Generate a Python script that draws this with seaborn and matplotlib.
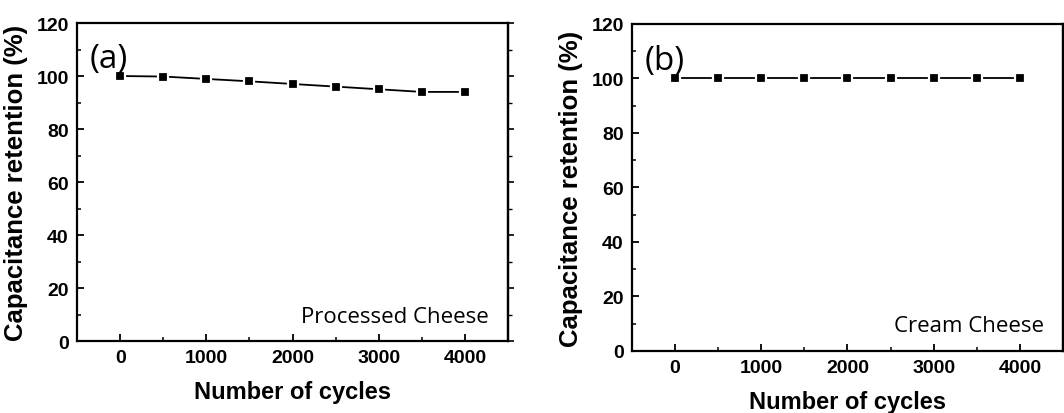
import matplotlib
matplotlib.use('Agg')
import matplotlib.pyplot as plt
from matplotlib.ticker import MultipleLocator
import seaborn as sns
import pandas as pd

# data
cycles = [0, 500, 1000, 1500, 2000, 2500, 3000, 3500, 4000]
processed = [100, 99.8, 98.9, 98.0, 97.0, 96.0, 95.0, 94.0, 94.0]
cream = [100, 100, 100, 100, 100, 100, 100, 100, 100]
panel_tags = ['(a)', '(b)']
panel_names = ['Processed Cheese', 'Cream Cheese']

sns.set_style('ticks')
plt.rcParams['font.family'] = ['Liberation Sans', 'DejaVu Sans']
plt.rcParams['font.weight'] = 'bold'
plt.rcParams['text.color'] = 'black'
plt.rcParams['axes.labelcolor'] = 'black'
plt.rcParams['xtick.color'] = 'black'
plt.rcParams['ytick.color'] = 'black'
plt.rcParams['axes.edgecolor'] = 'black'

fig = plt.figure(figsize=(10.64, 4.14), dpi=100)
ax1 = fig.add_axes([0.0724, 0.1739, 0.4051, 0.7681])
ax2 = fig.add_axes([0.594, 0.1498, 0.405, 0.7899])

for ax, vals, tag, name in zip([ax1, ax2], [processed, cream], panel_tags, panel_names):
    df = pd.DataFrame({'cycles': cycles, 'retention': vals})
    sns.lineplot(data=df, x='cycles', y='retention', ax=ax, color='black',
                 marker='s', markersize=6.5, markeredgecolor='white',
                 markeredgewidth=1.6, linewidth=1.3)
    ax.set_xlim(-500, 4500)
    ax.set_ylim(0, 120)
    ax.xaxis.set_major_locator(MultipleLocator(1000))
    ax.xaxis.set_minor_locator(MultipleLocator(500))
    ax.yaxis.set_major_locator(MultipleLocator(20))
    ax.yaxis.set_minor_locator(MultipleLocator(10))
    ax.tick_params(axis='both', which='major', direction='in', length=5, width=1.3,
                   labelsize=14, pad=6)
    ax.tick_params(axis='both', which='minor', direction='in', length=3, width=1.1)
    for lab in ax.get_xticklabels() + ax.get_yticklabels():
        lab.set_fontweight('bold')
    for s in ax.spines.values():
        s.set_linewidth(1.6)
    # mirrored ticks on the right spine, pointing outward
    sec = ax.secondary_yaxis('right')
    sec.yaxis.set_major_locator(MultipleLocator(20))
    sec.yaxis.set_minor_locator(MultipleLocator(10))
    sec.tick_params(which='major', direction='out', length=4, width=1.2, labelright=False)
    sec.tick_params(which='minor', direction='out', length=3, width=1.0)
    sec.spines['right'].set_linewidth(1.6)
    ax.set_xlabel('Number of cycles', fontsize=17, fontweight='bold', labelpad=10)
    ax.set_ylabel('Capacitance retention (%)', fontsize=18.5, fontweight='bold', labelpad=6)
    ax.text(0.03, 0.94, tag, transform=ax.transAxes, ha='left', va='top',
            fontsize=24, fontweight='normal', family=['Open Sans', 'DejaVu Sans'])
    ax.text(0.955, 0.045, name, transform=ax.transAxes, ha='right', va='bottom',
            fontsize=16, fontweight='normal', family=['Open Sans', 'DejaVu Sans'])

fig.savefig('out.png', dpi=100)
